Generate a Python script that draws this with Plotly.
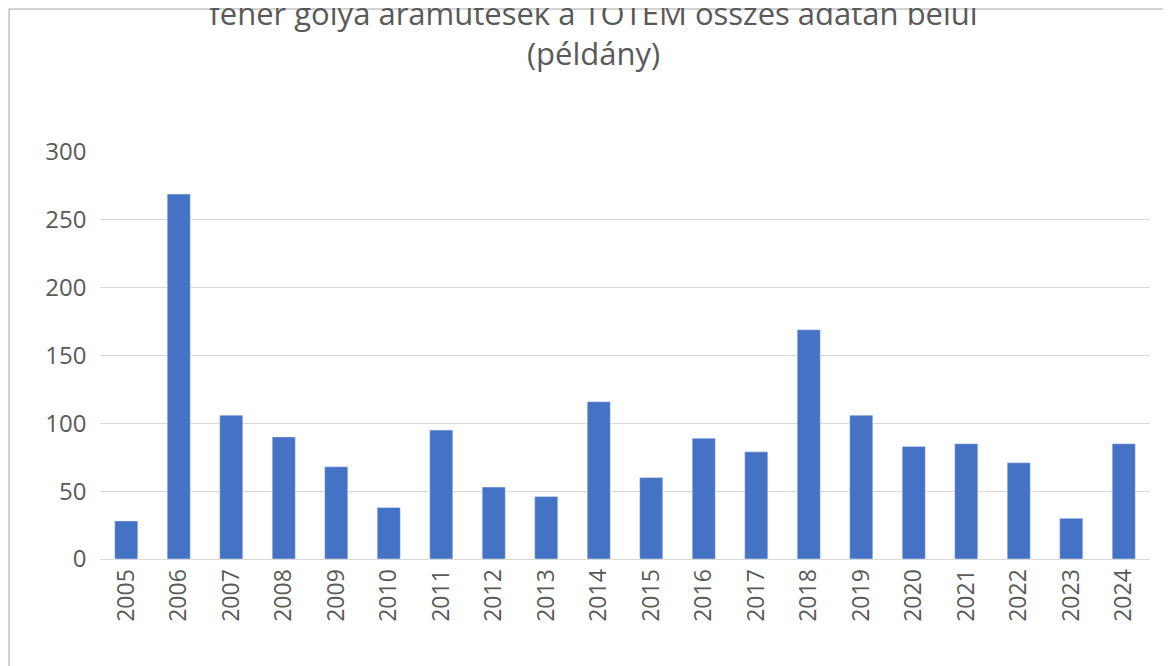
import plotly.graph_objects as go

years = [str(y) for y in range(2005, 2025)]
values = [28, 269, 106, 90, 68, 38, 95, 53, 46, 116, 60, 89, 79, 169, 106, 83, 85, 71, 30, 85]
title_text = "fehér gólya áramütések a TOTEM összes adatán belül<br>(példány)"

L, R, T, B = 92, 29, 144, 115
pw, ph = 1171 - L - R, 666 - T - B

fig = go.Figure(go.Bar(x=years, y=values, marker_color="#4472C4", width=0.44))
fig.update_layout(
    width=1171, height=666,
    margin=dict(l=L, r=R, t=T, b=B, autoexpand=False),
    paper_bgcolor="white", plot_bgcolor="white",
    font=dict(family="Open Sans, Lato, sans-serif", color="#595959"),
    title=dict(text=title_text, x=0.5, xanchor="center", y=0.975, yanchor="top",
               font=dict(size=31, color="#595959")),
    showlegend=False,
    xaxis=dict(type="category", tickangle=-90, tickfont=dict(size=23, color="#595959"),
               showline=True, linecolor="#D9D9D9", ticks=""),
    yaxis=dict(range=[0, 300], dtick=50, tickfont=dict(size=24, color="#595959"),
               gridcolor="#D9D9D9", zeroline=False, ticks="", ticksuffix="  "),
    shapes=[dict(type="rect", xref="paper", yref="paper",
                 x0=-(L - 1) / pw, x1=1 + (R - 2) / pw,
                 y0=-(B - 2) / ph, y1=1 + (T - 1) / ph,
                 line=dict(color="#A6A6A6", width=1))],
)
fig.write_html("out.html")
